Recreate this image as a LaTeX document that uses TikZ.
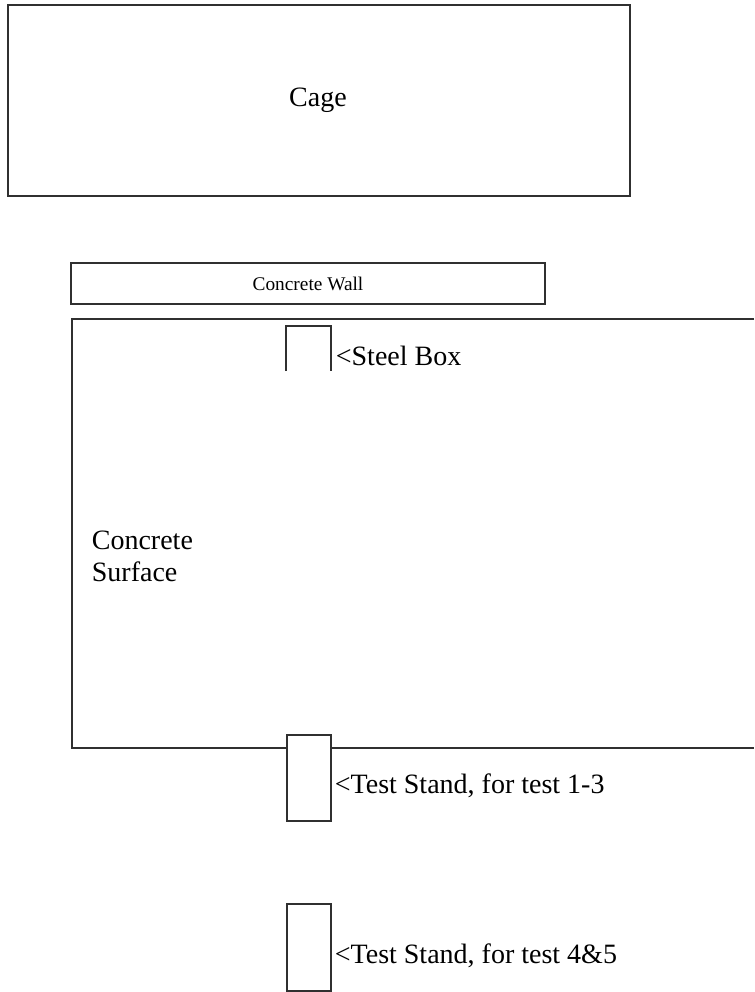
\documentclass[tikz,border=0pt]{standalone}
\usepackage{fontspec}
\setmainfont{Liberation Serif}
\usepackage{tikz}
\usetikzlibrary{positioning,calc}
\definecolor{linegray}{HTML}{303030}

\begin{document}
\begin{tikzpicture}[x=0.75pt, y=-0.75pt, line width=1.3pt]
    \useasboundingbox (0,0) rectangle (754,992);
    \def\bigfont{\fontsize{21}{25}\selectfont}
    \def\smallfont{\fontsize{14.5}{17}\selectfont}

    % Cage
    \draw[linegray] (8,5) rectangle (630,196);
    \node[font=\bigfont, anchor=center] (cage) at (318,100) {Cage};

    % Concrete wall
    \draw[linegray] (71,263) rectangle (545,304);
    \node[font=\smallfont, anchor=center] (wall) at (308,284) {Concrete Wall};

    % Concrete surface (runs off the right edge)
    \draw[linegray] (754,319) -- (72,319) -- (72,748) -- (754,748);
    \node[font=\bigfont, anchor=north west, align=left, inner sep=0pt] (surface) at (91,530) {Concrete\\[-1pt]Surface};

    % Steel box, open at the bottom
    \draw[linegray] (286,371) -- (286,326) -- (331,326) -- (331,371);
    \node[font=\bigfont, anchor=base west, inner sep=0pt] (steel) at (335,365) {\textless Steel Box};

    % Test stand for tests 1-3
    \filldraw[linegray, fill=white] (287,735) rectangle (331,821);
    \node[font=\bigfont, anchor=base west, inner sep=0pt] (standA) at (334,793) {\textless Test Stand, for test 1-3};

    % Test stand for tests 4&5
    \draw[linegray] (287,904) rectangle (331,991);
    \node[font=\bigfont, anchor=base west, inner sep=0pt] (standB) at (334,963) {\textless Test Stand, for test 4\&5};

  \end{tikzpicture}
\end{document}
